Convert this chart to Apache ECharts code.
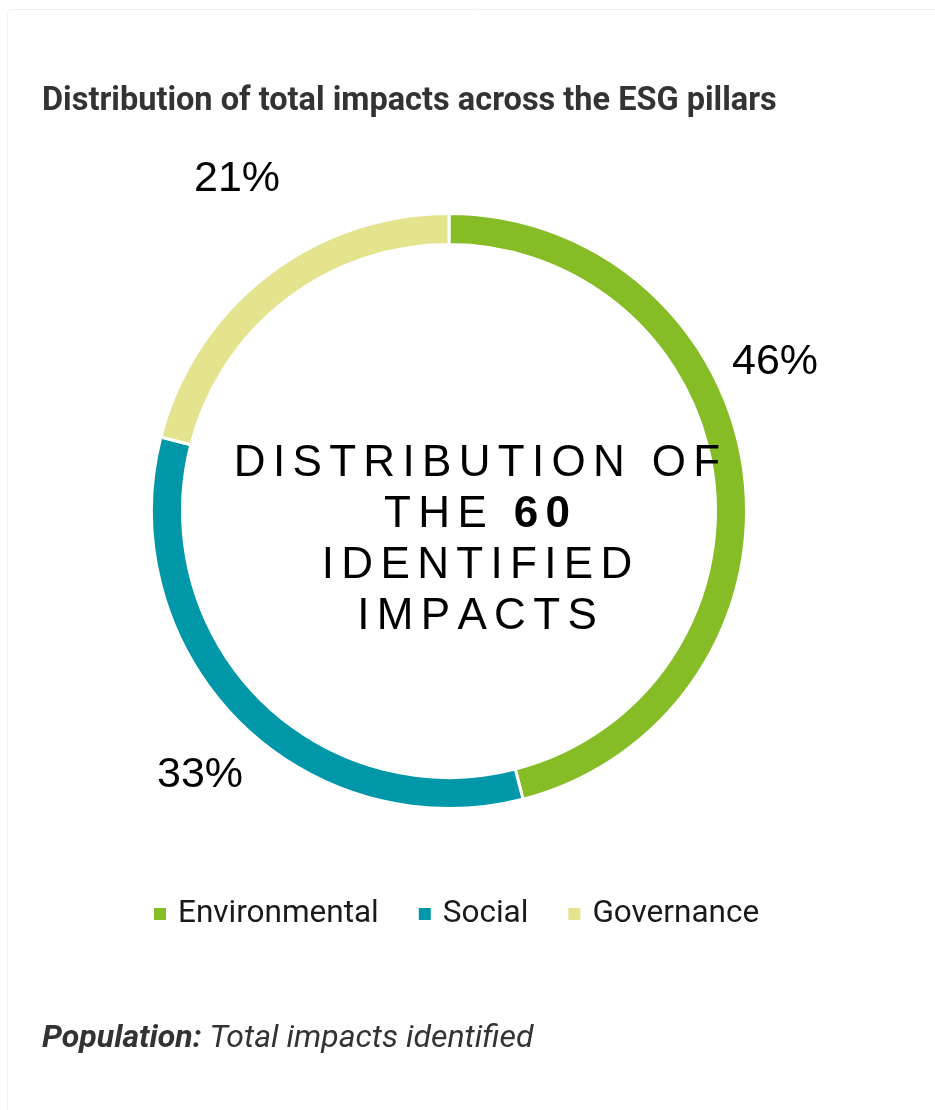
<!DOCTYPE html>
<html>
<head>
<meta charset="utf-8">
<title>Distribution of total impacts across the ESG pillars</title>
<script src="https://cdn.jsdelivr.net/npm/echarts@6/dist/echarts.min.js"></script>
<style>
  html, body { margin: 0; padding: 0; background: #ffffff; }
  #chart { width: 935px; height: 1110px; }
</style>
</head>
<body>
<div id="chart"></div>
<script>
// ESG pillars and their share of the identified impacts (in %)
const pillars = ['Environmental', 'Social', 'Governance'];
const shares = [46, 33, 21];
const pillarColors = ['#86BC25', '#0097A9', '#E3E48D'];
const totalImpacts = 60;

const chartTitle = 'Distribution of total impacts across the ESG pillars';
const populationLabel = 'Population:';
const populationText = 'Total impacts identified';

// spread the letters of a caption apart with narrow spaces
const GAP = '\u2006';
function spaced(s) { return s.split('').join(GAP); }

const centerText = [
  spaced('DISTRIBUTION OF'),
  spaced('THE ') + GAP + '{b|' + spaced(String(totalImpacts)) + '}',
  spaced('IDENTIFIED'),
  spaced('IMPACTS')
].join('\n');

// where each percentage label sits around the ring
const labelSpots = [[775, 362], [200, 775], [237, 179]];

const chart = echarts.init(document.getElementById('chart'), null, { renderer: 'canvas' });

chart.setOption({
  backgroundColor: '#ffffff',
  animation: false,
  color: pillarColors,
  title: {
    text: chartTitle,
    left: 42,
    top: 85,
    padding: 0,
    textStyle: { fontFamily: 'Roboto', fontWeight: 'bold', fontSize: 32.5, color: '#333333' }
  },
  legend: {
    data: pillars,
    left: 152,
    top: 898,
    padding: 0,
    icon: 'rect',
    itemWidth: 14,
    itemHeight: 14,
    itemGap: 38,
    textStyle: { fontFamily: 'Roboto', fontSize: 31.5, color: '#1a1a1a', padding: [0, 0, 0, 6] }
  },
  graphic: [
    {
      type: 'rect',
      silent: true,
      z: -10,
      shape: { x: 7.5, y: 9.5, width: 940, height: 1120, r: 4 },
      style: { fill: '#ffffff', stroke: '#f0f0f0', lineWidth: 1 }
    },
    {
      type: 'text',
      silent: true,
      z: 100,
      x: 477,
      y: 540,
      style: {
        text: centerText,
        align: 'center',
        verticalAlign: 'middle',
        fontFamily: 'Liberation Sans',
        fontSize: 44,
        lineHeight: 51,
        fill: '#000000',
        rich: {
          b: { fontFamily: 'Liberation Sans', fontSize: 44, lineHeight: 51, fontWeight: 'bold', fill: '#000000' }
        }
      }
    },
    {
      type: 'text',
      silent: true,
      x: 42,
      y: 1039,
      style: {
        text: '{b|' + populationLabel + '} ' + populationText,
        verticalAlign: 'middle',
        fontFamily: 'Roboto',
        fontStyle: 'italic',
        fontSize: 32,
        fill: '#333333',
        rich: {
          b: { fontFamily: 'Roboto', fontStyle: 'italic', fontWeight: 'bold', fontSize: 32, fill: '#333333' }
        }
      }
    }
  ],
  series: [
    {
      type: 'pie',
      center: [449, 511],
      radius: [266.5, 297.5],
      startAngle: 90,
      clockwise: true,
      avoidLabelOverlap: false,
      itemStyle: { borderColor: '#ffffff', borderWidth: 3 },
      emphasis: { disabled: true },
      label: {
        show: true,
        position: 'outside',
        formatter: '{c}%',
        fontFamily: 'Liberation Sans',
        fontSize: 43,
        color: '#000000'
      },
      labelLine: { show: false },
      labelLayout: function (params) {
        const p = labelSpots[params.dataIndex];
        return { x: p[0], y: p[1], align: 'center', verticalAlign: 'middle' };
      },
      data: pillars.map(function (name, i) { return { name: name, value: shares[i] }; })
    }
  ]
});
</script>
</body>
</html>
